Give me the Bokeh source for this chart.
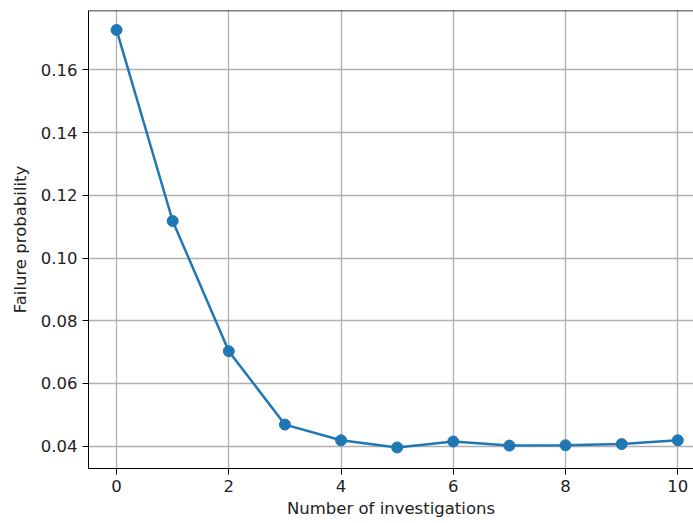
from bokeh.plotting import figure
from bokeh.embed import file_html
from bokeh.resources import INLINE
from bokeh.models import Range1d, FixedTicker, CustomJSTickFormatter, Span

investigations = [0, 1, 2, 3, 4, 5, 6, 7, 8, 9, 10]
failure_prob = [0.1727, 0.1118, 0.0703, 0.0469, 0.0419, 0.0396, 0.0415, 0.0402, 0.0403, 0.0407, 0.0419]
x_ticks = [0, 2, 4, 6, 8, 10]
y_ticks = [0.04, 0.06, 0.08, 0.10, 0.12, 0.14, 0.16]
y_lo, y_hi = 0.0329, 0.1789

p = figure(width=693, height=523, output_backend="svg", toolbar_location=None,
           x_range=Range1d(-0.5, 10.28), y_range=Range1d(y_lo, y_hi),
           min_border_left=88, min_border_right=0, min_border_top=10, min_border_bottom=55)
p.outline_line_color = None

p.line(investigations, failure_prob, line_color="#1f77b4", line_width=2.5)
p.scatter(investigations, failure_prob, size=11, fill_color="#1f77b4", line_color="#1f77b4")

xa = p.below[0]
ya = p.left[0]
font = "DejaVu Sans"
for ax in (xa, ya):
    ax.major_label_text_font = font
    ax.major_label_text_font_size = "16.5px"
    ax.major_label_text_color = "#222222"
    ax.axis_label_text_font = font
    ax.axis_label_text_font_size = "16.5px"
    ax.axis_label_text_font_style = "normal"
    ax.axis_label_text_color = "#222222"
    ax.minor_tick_line_color = None
    ax.major_tick_out = 6
    ax.major_tick_in = 0
    ax.major_label_standoff = 5
    ax.axis_line_color = "black"
    ax.major_tick_line_color = "black"

xa.ticker = FixedTicker(ticks=x_ticks)
ya.ticker = FixedTicker(ticks=y_ticks)
ya.formatter = CustomJSTickFormatter(code="return tick.toFixed(2);")
xa.axis_label = "Number of investigations"
ya.axis_label = "Failure probability"
xa.axis_label_standoff = 4
ya.axis_label_standoff = 8

p.add_layout(Span(location=y_hi, dimension="width", line_color="black", line_width=1.5))

p.grid.grid_line_color = "#b0b0b0"
p.grid.grid_line_width = 1.3

open("out.html", "w").write(file_html(p, INLINE))
